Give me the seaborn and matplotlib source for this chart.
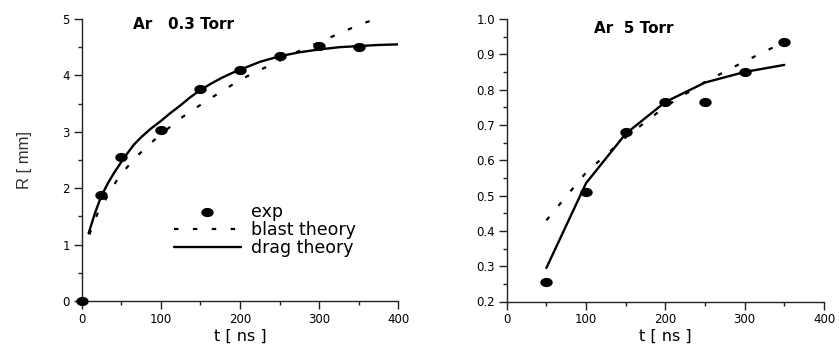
import numpy as np
import pandas as pd
import matplotlib
matplotlib.use("Agg")
import matplotlib.pyplot as plt
import seaborn as sns
from matplotlib.ticker import MultipleLocator, FormatStrFormatter

# ---- data: left panel (Ar 0.3 Torr) ----
exp1_t = [0, 25, 50, 100, 150, 200, 250, 300, 350]
exp1_R = [0.0, 1.88, 2.56, 3.04, 3.75, 4.09, 4.34, 4.52, 4.51]
blast1_t = [10, 21, 48, 60, 73, 89, 123, 145, 167, 191, 216, 243, 271, 323, 349, 379]
blast1_R = [1.18, 1.58, 2.22, 2.41, 2.61, 2.82, 3.22, 3.43, 3.63, 3.84, 4.04, 4.21, 4.41, 4.73, 4.89, 5.04]
drag1_t = [9, 17, 25, 33, 41, 50, 58, 66, 75, 87, 100, 112, 125, 137, 150, 163, 176,
           188, 200, 225, 250, 275, 300, 325, 350, 375, 400]
drag1_R = [1.20, 1.56, 1.86, 2.08, 2.27, 2.46, 2.62, 2.77, 2.90, 3.05, 3.19, 3.33, 3.47,
           3.61, 3.74, 3.85, 3.95, 4.03, 4.10, 4.24, 4.34, 4.41, 4.46, 4.50, 4.52, 4.54, 4.55]

# ---- data: right panel (Ar 5 Torr) ----
exp2_t = [50, 100, 150, 200, 250, 300, 350]
exp2_R = [0.255, 0.51, 0.68, 0.765, 0.765, 0.85, 0.935]
blast2_t = [50, 100, 150, 200, 250, 300, 350]
blast2_R = [0.43, 0.565, 0.665, 0.752, 0.822, 0.880, 0.935]
drag2_t = [50, 100, 150, 200, 250, 300, 350]
drag2_R = [0.295, 0.535, 0.675, 0.765, 0.82, 0.85, 0.87]

sns.set_theme(style="ticks")
plt.rcParams['font.family'] = ['DejaVu Sans']
plt.rcParams['text.color'] = 'black'
plt.rcParams['axes.labelcolor'] = 'black'

# ellipse marker (slightly wider than tall)
th = np.linspace(0, 2 * np.pi, 40)
ell = list(zip(1.35 * np.cos(th), np.sin(th)))

fig = plt.figure(figsize=(8.39, 3.45), dpi=100)
ax1 = fig.add_axes([81.5 / 839, 1 - 301 / 345, (398.5 - 81.5) / 839, (301 - 19) / 345])
ax2 = fig.add_axes([506.7 / 839, 1 - 301.5 / 345, (824 - 506.7) / 839, (301.5 - 19) / 345])

dot_style = (0, (2, 6.5))

def draw(ax, et, eR, bt, bR, dt, dR):
    sns.lineplot(x=bt, y=bR, ax=ax, color='black', lw=1.6, linestyle=dot_style,
                 label='blast theory', zorder=2, sort=False)
    sns.lineplot(x=dt, y=dR, ax=ax, color='black', lw=1.7, label='drag theory', zorder=3,
                 sort=False)
    sns.scatterplot(x=et, y=eR, ax=ax, color='black', marker=ell, s=80,
                    edgecolor='black', linewidth=0, label='exp', zorder=4, clip_on=False)

draw(ax1, exp1_t, exp1_R, blast1_t, blast1_R, drag1_t, drag1_R)
draw(ax2, exp2_t, exp2_R, blast2_t, blast2_R, drag2_t, drag2_R)

ax1.set_xlim(0, 400)
ax1.set_ylim(0, 5)
ax1.yaxis.set_major_locator(MultipleLocator(1))
ax1.yaxis.set_minor_locator(MultipleLocator(0.5))
ax2.set_xlim(0, 400)
ax2.set_ylim(0.2, 1.0)
ax2.yaxis.set_major_locator(MultipleLocator(0.1))
ax2.yaxis.set_minor_locator(MultipleLocator(0.05))
ax2.yaxis.set_major_formatter(FormatStrFormatter('%.1f'))

for ax in (ax1, ax2):
    ax.xaxis.set_major_locator(MultipleLocator(100))
    ax.xaxis.set_minor_locator(MultipleLocator(50))
    sns.despine(ax=ax)
    for s in ('left', 'bottom'):
        ax.spines[s].set_linewidth(1.0)
        ax.spines[s].set_color('#222222')
    ax.tick_params(which='major', direction='out', length=6, width=1.0, labelsize=8.5,
                   color='#222222', labelcolor='black', pad=2.5)
    ax.tick_params(which='minor', direction='out', length=3, width=1.0, color='#222222')
    ax.set_xlabel('t [ ns ]', fontsize=11.5, labelpad=2, color='black')
    ax.set_ylabel('')
    ax.grid(False)

ax1.set_ylabel('R [ mm]', fontsize=12, color='#333333',
               family=['Liberation Sans Narrow', 'Liberation Sans', 'DejaVu Sans'],
               labelpad=22)
ax1.text(0.162, 0.981, 'Ar   0.3 Torr', transform=ax1.transAxes, fontsize=11,
         fontweight='bold', va='center', ha='left', color='black')
ax2.text(0.275, 0.965, 'Ar  5 Torr', transform=ax2.transAxes, fontsize=11,
         fontweight='bold', va='center', ha='left', color='black')

# legend only on the left panel
h, l = ax1.get_legend_handles_labels()
order = [l.index('exp'), l.index('blast theory'), l.index('drag theory')]
leg = ax1.legend([h[i] for i in order], [l[i] for i in order], loc='upper left',
                 bbox_to_anchor=(0.263, 0.379), frameon=False, fontsize=12.5,
                 handlelength=3.9, handletextpad=0.55, labelspacing=0.0, borderpad=0)
for t in leg.get_texts():
    t.set_color('black')
ax2.get_legend().remove()

fig.savefig('out.png', dpi=100)
